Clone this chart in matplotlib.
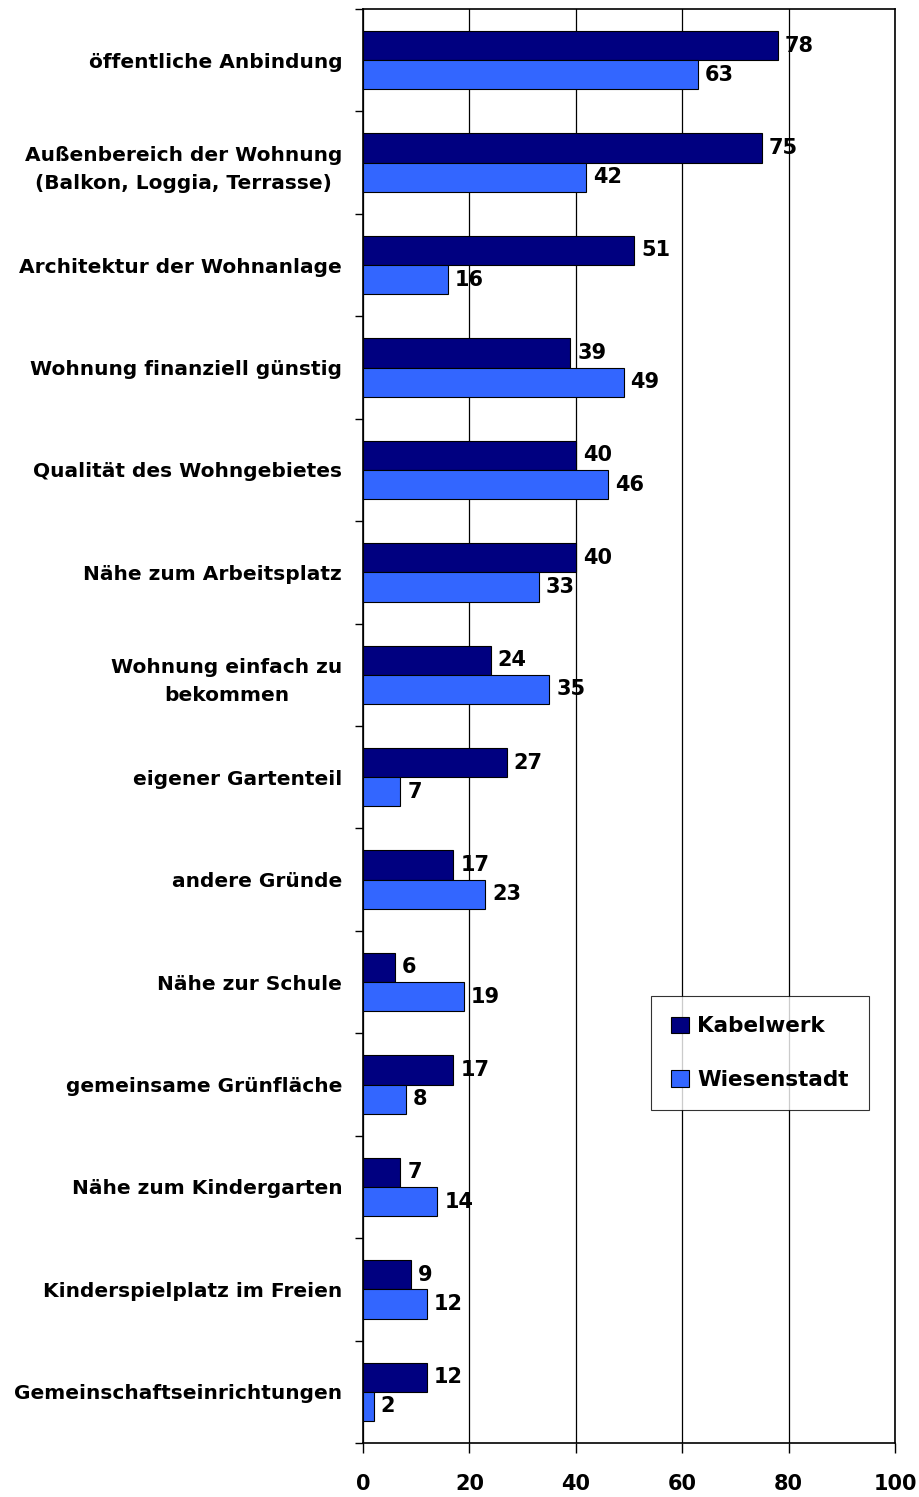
import matplotlib
matplotlib.use("Agg")
import matplotlib.pyplot as plt
import numpy as np

categories = [
    "öffentliche Anbindung",
    "Außenbereich der Wohnung\n(Balkon, Loggia, Terrasse)",
    "Architektur der Wohnanlage",
    "Wohnung finanziell günstig",
    "Qualität des Wohngebietes",
    "Nähe zum Arbeitsplatz",
    "Wohnung einfach zu\nbekommen",
    "eigener Gartenteil",
    "andere Gründe",
    "Nähe zur Schule",
    "gemeinsame Grünfläche",
    "Nähe zum Kindergarten",
    "Kinderspielplatz im Freien",
    "Gemeinschaftseinrichtungen",
]
kabelwerk = [78, 75, 51, 39, 40, 40, 24, 27, 17, 6, 17, 7, 9, 12]
wiesenstadt = [63, 42, 16, 49, 46, 33, 35, 7, 23, 19, 8, 14, 12, 2]
series_names = ["Kabelwerk", "Wiesenstadt"]
xticks = [0, 20, 40, 60, 80, 100]

plt.rcParams['font.family'] = ['DejaVu Sans']
plt.rcParams['font.weight'] = 'bold'

W, H = 920, 1497
ax_l, ax_r, ax_t, ax_b = 363, 895, 9, 1443
fig = plt.figure(figsize=(W / 100, H / 100), dpi=100)
ax = fig.add_axes([ax_l / W, 1 - ax_b / H, (ax_r - ax_l) / W, (ax_b - ax_t) / H])

n = len(categories)
y = np.arange(n)
bh = 0.285
ax.barh(y - bh / 2, kabelwerk, height=bh, color="#000080", edgecolor="black",
        linewidth=0.8, label=series_names[0], zorder=3)
ax.barh(y + bh / 2, wiesenstadt, height=bh, color="#3366FF", edgecolor="black",
        linewidth=0.8, label=series_names[1], zorder=3)

for i in range(n):
    ax.text(kabelwerk[i] + 1.3, y[i] - bh / 2, str(kabelwerk[i]), va="center", ha="left",
            fontsize=15, fontweight="bold", zorder=4)
    ax.text(wiesenstadt[i] + 1.3, y[i] + bh / 2, str(wiesenstadt[i]), va="center", ha="left",
            fontsize=15, fontweight="bold", zorder=4)

ax.set_xlim(0, 100)
ax.set_ylim(n - 0.5, -0.5)
ax.set_xticks(xticks)
ax.set_xticklabels([str(t) for t in xticks], fontsize=15, fontweight="bold")
ax.tick_params(axis="x", length=7, width=1, pad=15, direction="out")
ax.grid(axis="x", color="black", linewidth=0.9, zorder=0)

# y ticks at category boundaries, labels at centres
ax.set_yticks(np.arange(n + 1) - 0.5)
ax.set_yticklabels([])
ax.set_yticks(y, minor=True)
ax.set_yticklabels(categories, minor=True, fontsize=14.5, fontweight="bold", ha="right",
                   linespacing=1.6)
ax.tick_params(axis="y", which="major", length=6, width=1, direction="out")
ax.tick_params(axis="y", which="minor", length=0, pad=15)
for lab in ax.get_yticklabels(minor=True):
    lab.set_multialignment("center")

for sp in ax.spines.values():
    sp.set_linewidth(1.2)
    sp.set_color("black")

leg = ax.legend(loc="upper left",
                bbox_to_anchor=((651 - ax_l) / (ax_r - ax_l), 1 - (996 - ax_t) / (ax_b - ax_t)),
                frameon=True, fancybox=False, edgecolor="black", fontsize=15.5,
                handlelength=0.8, handleheight=0.8, handletextpad=0.4, labelspacing=1.55,
                borderpad=0.95, borderaxespad=0)
leg.get_frame().set_linewidth(0.8)
for t in leg.get_texts():
    t.set_fontweight("bold")

fig.savefig("out.png", dpi=100, facecolor="white")
